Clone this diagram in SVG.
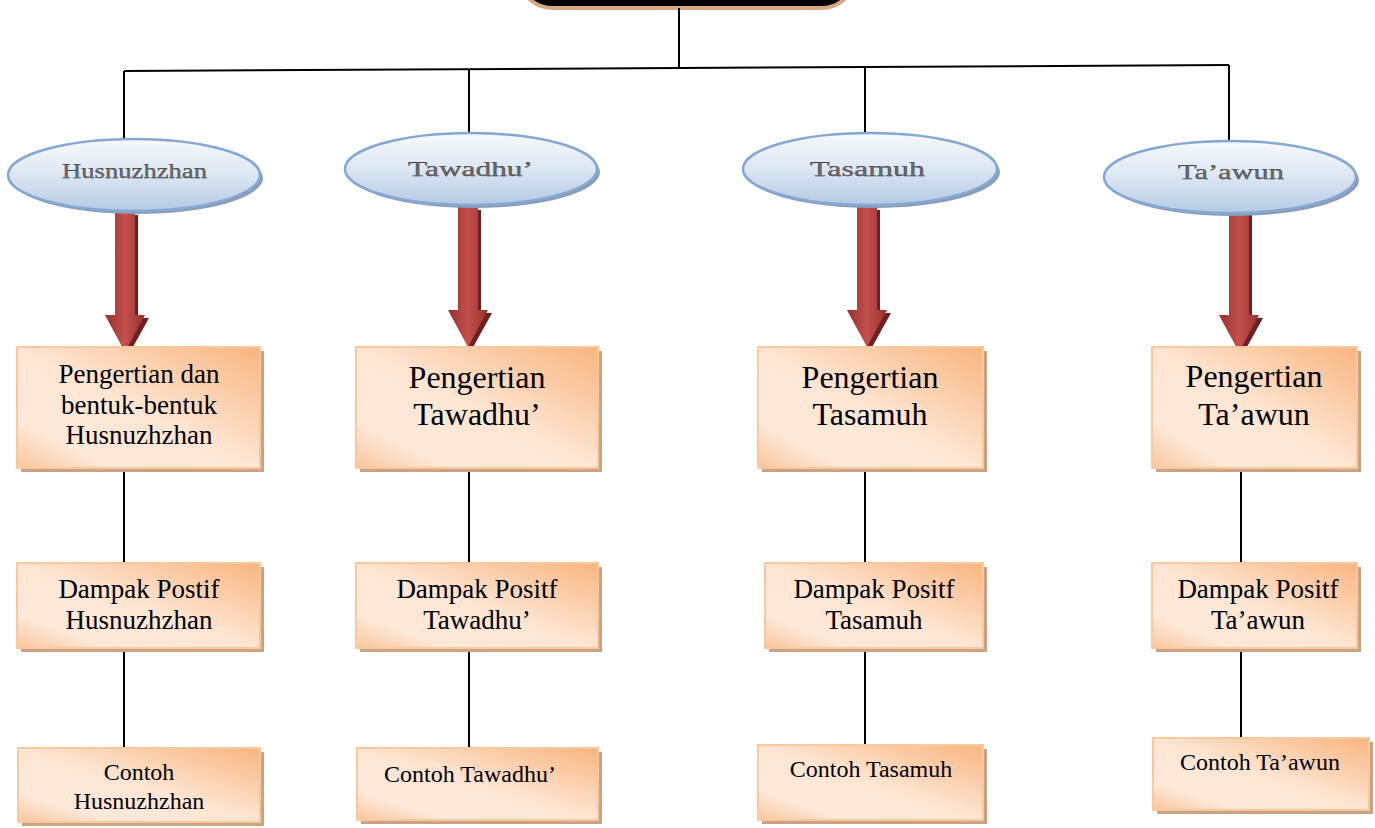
<svg xmlns="http://www.w3.org/2000/svg" width="1375" height="828" viewBox="0 0 1375 828">
<defs>
<linearGradient id="ell" x1="0" y1="0" x2="0" y2="1">
<stop offset="0" stop-color="#f7f9fc"/><stop offset="0.5" stop-color="#dce6f2"/><stop offset="1" stop-color="#b4c9e3"/>
</linearGradient>
<linearGradient id="box" x1="1" y1="0" x2="0" y2="1">
<stop offset="0" stop-color="#f8b47e"/><stop offset="0.5" stop-color="#fde5d2"/><stop offset="0.8" stop-color="#fde9da"/><stop offset="1" stop-color="#f9c59b"/>
</linearGradient>
<linearGradient id="arr" x1="0" y1="0" x2="1" y2="0">
<stop offset="0" stop-color="#96302e"/><stop offset="0.5" stop-color="#c4504d"/><stop offset="1" stop-color="#96302e"/>
</linearGradient>
<symbol id="arrow" overflow="visible">
<path d="M3,3 h20 v103 h11 l-21,38 l-21,-38 h11 z" fill="#6e2120"/>
<path d="M0,0 h20 v103 h10 l-20,37 l-20,-37 h10 z" fill="url(#arr)"/>
</symbol>
</defs>
<style>
.ellsh{fill:#8a9db5}
.ell{fill:url(#ell);stroke:#84a8d3;stroke-width:2.5}
.et{font-family:"Liberation Serif",serif;font-size:21px;fill:#6a6a6a;stroke:#1a1a1a;stroke-width:0.25}
.bsh{fill:#c9a283}
.box{fill:url(#box);stroke:#f9c89d;stroke-width:2}
.t{font-family:"Liberation Serif","Times New Roman",serif;fill:#000;text-anchor:middle}
.s26{font-size:27px}
.s24{font-size:24px}
.s32{font-size:32px}
.ln{stroke:#000;stroke-width:2;fill:none}
</style>

<g id="top">
<rect x="523" y="-40" width="328" height="48" rx="30" fill="#000" stroke="#d7a883" stroke-width="4"/>
</g>

<g id="connectors">
<path class="ln" d="M679,8 V68"/>
<path class="ln" d="M124,71 L1229,65"/>
<path class="ln" d="M124,71 V139"/>
<path class="ln" d="M469,69 V134"/>
<path class="ln" d="M865,67 V134"/>
<path class="ln" d="M1229,65 V146"/>
<path class="ln" d="M124,470 V563 M124,650 V748"/>
<path class="ln" d="M469,470 V563 M469,650 V748"/>
<path class="ln" d="M865,470 V563 M865,650 V745"/>
<path class="ln" d="M1241,470 V563 M1241,650 V738"/>
</g>

<g id="arrows">
<use href="#arrow" x="115" y="212"/>
<use href="#arrow" x="458" y="207"/>
<use href="#arrow" x="857" y="207"/>
<use href="#arrow" x="1229" y="212"/>
</g>

<g id="e-husnuzhzhan">
<ellipse class="ellsh" cx="137" cy="178" rx="126" ry="36"/>
<ellipse class="ell" cx="134" cy="175" rx="126" ry="36"/>
<text class="et" x="62" y="178" textLength="145" lengthAdjust="spacingAndGlyphs">Husnuzhzhan</text>
</g>
<g id="e-tawadhu">
<ellipse class="ellsh" cx="474" cy="172" rx="126" ry="36"/>
<ellipse class="ell" cx="471" cy="169" rx="126" ry="36"/>
<text class="et" x="408" y="176" textLength="125" lengthAdjust="spacingAndGlyphs">Tawadhu’</text>
</g>
<g id="e-tasamuh">
<ellipse class="ellsh" cx="873" cy="172" rx="127" ry="36"/>
<ellipse class="ell" cx="870" cy="169" rx="127" ry="36"/>
<text class="et" x="810" y="176" textLength="115" lengthAdjust="spacingAndGlyphs">Tasamuh</text>
</g>
<g id="e-taawun">
<ellipse class="ellsh" cx="1233" cy="180" rx="126" ry="36"/>
<ellipse class="ell" cx="1230" cy="177" rx="126" ry="36"/>
<text class="et" x="1178" y="179" textLength="106" lengthAdjust="spacingAndGlyphs">Ta’awun</text>
</g>

<g id="b1-1">
<rect class="bsh" x="21" y="351" width="243" height="121"/>
<rect class="box" x="17" y="347" width="243" height="121"/>
<text class="t s26" x="139" y="383">Pengertian dan</text>
<text class="t s26" x="139" y="414">bentuk-bentuk</text>
<text class="t s26" x="139" y="444">Husnuzhzhan</text>
</g>
<g id="b1-2">
<rect class="bsh" x="21" y="567" width="243" height="85"/>
<rect class="box" x="17" y="563" width="243" height="85"/>
<text class="t s26" x="139" y="598">Dampak Postif</text>
<text class="t s26" x="139" y="629">Husnuzhzhan</text>
</g>
<g id="b1-3">
<rect class="bsh" x="22" y="752" width="242" height="74"/>
<rect class="box" x="18" y="748" width="242" height="74"/>
<text class="t s24" x="139" y="780">Contoh</text>
<text class="t s24" x="139" y="809">Husnuzhzhan</text>
</g>

<g id="b2-1">
<rect class="bsh" x="360" y="351" width="242" height="121"/>
<rect class="box" x="356" y="347" width="242" height="121"/>
<text class="t s32" x="477" y="388">Pengertian</text>
<text class="t s32" x="477" y="425">Tawadhu’</text>
</g>
<g id="b2-2">
<rect class="bsh" x="360" y="567" width="242" height="85"/>
<rect class="box" x="356" y="563" width="242" height="85"/>
<text class="t s26" x="477" y="598">Dampak Positf</text>
<text class="t s26" x="477" y="629">Tawadhu’</text>
</g>
<g id="b2-3">
<rect class="bsh" x="361" y="752" width="241" height="72"/>
<rect class="box" x="357" y="748" width="241" height="72"/>
<text class="t s24" x="470" y="782">Contoh Tawadhu’</text>
</g>

<g id="b3-1">
<rect class="bsh" x="762" y="351" width="225" height="121"/>
<rect class="box" x="758" y="347" width="225" height="121"/>
<text class="t s32" x="870" y="388">Pengertian</text>
<text class="t s32" x="870" y="425">Tasamuh</text>
</g>
<g id="b3-2">
<rect class="bsh" x="769" y="567" width="218" height="85"/>
<rect class="box" x="765" y="563" width="218" height="85"/>
<text class="t s26" x="874" y="598">Dampak Positf</text>
<text class="t s26" x="874" y="629">Tasamuh</text>
</g>
<g id="b3-3">
<rect class="bsh" x="762" y="749" width="225" height="75"/>
<rect class="box" x="758" y="745" width="225" height="75"/>
<text class="t s24" x="871" y="777">Contoh Tasamuh</text>
</g>

<g id="b4-1">
<rect class="bsh" x="1156" y="351" width="205" height="121"/>
<rect class="box" x="1152" y="347" width="205" height="121"/>
<text class="t s32" x="1254" y="387">Pengertian</text>
<text class="t s32" x="1254" y="425">Ta’awun</text>
</g>
<g id="b4-2">
<rect class="bsh" x="1156" y="567" width="205" height="85"/>
<rect class="box" x="1152" y="563" width="205" height="85"/>
<text class="t s26" x="1258" y="598">Dampak Positf</text>
<text class="t s26" x="1258" y="629">Ta’awun</text>
</g>
<g id="b4-3">
<rect class="bsh" x="1157" y="742" width="216" height="72"/>
<rect class="box" x="1153" y="738" width="216" height="72"/>
<text class="t s24" x="1260" y="770">Contoh Ta’awun</text>
</g>
</svg>
